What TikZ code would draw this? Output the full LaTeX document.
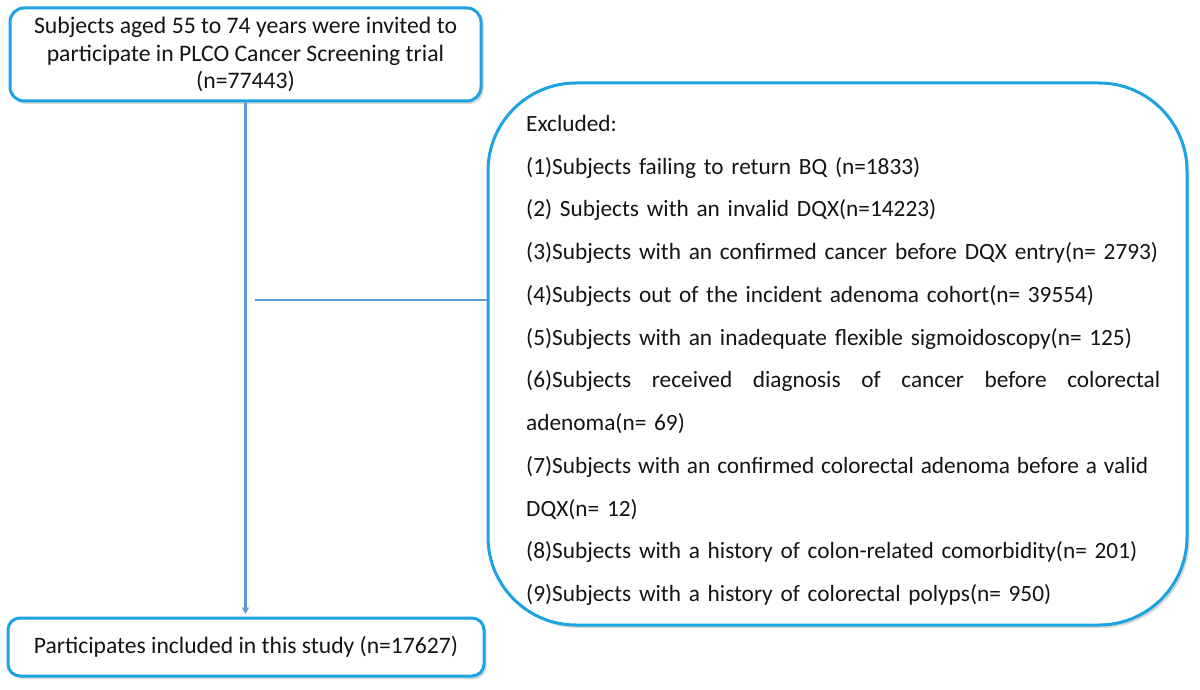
\documentclass[tikz,border=0pt]{standalone}
\usepackage{fontspec}
\setmainfont{Carlito}
\usetikzlibrary{arrows.meta,shadows}
\definecolor{boxblue}{RGB}{28,163,226}
\definecolor{lineblue}{RGB}{91,155,213}
\definecolor{txt}{RGB}{20,20,20}
\tikzset{
  flowbox/.style={draw=boxblue, line width=3pt, fill=white, text=txt,
    drop shadow={shadow xshift=2.5pt, shadow yshift=-3pt, opacity=0.35, fill=black!45}},
  conn/.style={draw=lineblue, line width=2.6pt},
}
\begin{document}
\begin{tikzpicture}[x=1pt,y=-1pt]
\useasboundingbox (0,0) rectangle (1200,690);
% top box
\node[flowbox, rounded corners=14pt, minimum width=471pt, minimum height=93pt,
  align=center, font=\fontsize{23.7}{27.5}\selectfont, inner sep=0pt]
  (top) at (245.5,54.5) {Subjects aged 55 to 74 years were invited to\\participate in PLCO Cancer Screening trial\\(n=77443)};
% bottom box
\node[flowbox, rounded corners=12pt, minimum width=476pt, minimum height=58pt,
  font=\fontsize{23.6}{27}\selectfont, inner sep=0pt]
  (bot) at (246,647) {Participates included in this study (n=17627)};
% right box
\node[flowbox, rounded corners=88pt, minimum width=699pt, minimum height=542pt, inner sep=0pt]
  (ex) at (837.5,354) {};
\node[anchor=north west, text width=634pt, align=left, inner sep=0pt, text=txt,
  font=\fontsize{23.3}{42.75}\selectfont] (extxt) at (526,115)
  {Excluded:\\
   (1)Subjects failing to return BQ (n=1833)\\
   (2) Subjects with an invalid DQX(n=14223)\\
   (3)Subjects with an confirmed cancer before DQX entry(n= 2793)\\
   (4)Subjects out of the incident adenoma cohort(n= 39554)\\
   (5)Subjects with an inadequate flexible sigmoidoscopy(n= 125)\\
   \leavevmode\hbox to 634pt{(6)Subjects\hfill received\hfill diagnosis\hfill of\hfill cancer\hfill before\hfill colorectal}\\
   adenoma(n= 69)\\
   \leavevmode\hbox to 622pt{(7)Subjects\hfill with\hfill an\hfill confirmed\hfill colorectal\hfill adenoma\hfill before\hfill a\hfill valid}\\
   DQX(n= 12)\\
   (8)Subjects with a history of colon-related comorbidity(n= 201)\\
   (9)Subjects with a history of colorectal polyps(n= 950)};
% connectors
\coordinate (hs) at (255,300);
\draw[conn] (hs) -- (hs -| ex.west);
\draw[conn, -{Latex[length=7pt,width=8pt]}, shorten >=2pt] (top.south) -- (top.south |- bot.north);
\end{tikzpicture}
\end{document}
